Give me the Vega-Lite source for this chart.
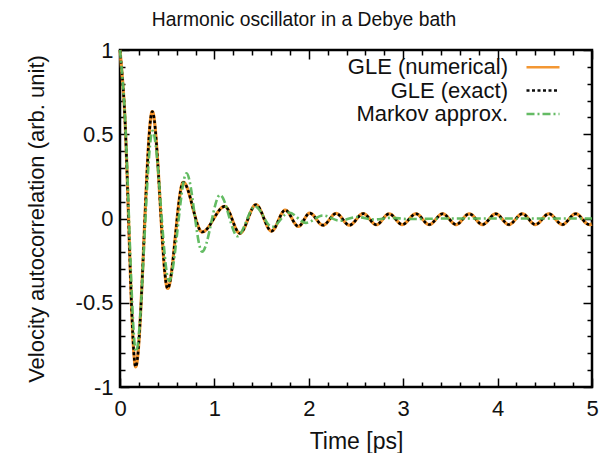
{
  "$schema": "https://vega.github.io/schema/vega-lite/v6.json",
  "width": 472,
  "height": 337,
  "autosize": {"type": "none"},
  "padding": {"left": 120, "top": 50, "right": 16, "bottom": 66},
  "background": "white",
  "title": {"text": "Harmonic oscillator in a Debye bath", "font": "Liberation Sans", "fontSize": 19.3, "fontWeight": "normal", "color": "#111", "dx": -52, "offset": 9},
  "config": {
    "view": {"stroke": "#000", "strokeWidth": 2.5},
    "axis": {"labelFont": "Liberation Sans", "labelFontSize": 22, "labelColor": "#111", "titleFont": "Liberation Sans", "titleFontSize": 22, "titleFontWeight": "normal", "titleColor": "#111", "tickColor": "#000", "tickWidth": 1.5, "domain": false, "grid": false},
    "legend": {"labelFont": "Liberation Sans", "labelFontSize": 22, "labelColor": "#111"}
  },
  "data": {"values": [
    {"t": 0, "v": 1, "s": "GLE (numerical)"},
    {"t": 0.04, "v": 0.72, "s": "GLE (numerical)"},
    {"t": 0.166, "v": -0.88, "s": "GLE (numerical)"},
    {"t": 0.342, "v": 0.635, "s": "GLE (numerical)"},
    {"t": 0.505, "v": -0.415, "s": "GLE (numerical)"},
    {"t": 0.67, "v": 0.215, "s": "GLE (numerical)"},
    {"t": 0.87, "v": -0.08, "s": "GLE (numerical)"},
    {"t": 1.11, "v": 0.072, "s": "GLE (numerical)"},
    {"t": 1.27, "v": -0.088, "s": "GLE (numerical)"},
    {"t": 1.44, "v": 0.082, "s": "GLE (numerical)"},
    {"t": 1.605, "v": -0.075, "s": "GLE (numerical)"},
    {"t": 1.75, "v": 0.05, "s": "GLE (numerical)"},
    {"t": 1.89, "v": -0.047, "s": "GLE (numerical)"},
    {"t": 2.01, "v": 0.032, "s": "GLE (numerical)"},
    {"t": 2.15, "v": -0.04, "s": "GLE (numerical)"},
    {"t": 2.29, "v": 0.03, "s": "GLE (numerical)"},
    {"t": 2.43, "v": -0.04, "s": "GLE (numerical)"},
    {"t": 2.577, "v": 0.029, "s": "GLE (numerical)"},
    {"t": 2.715, "v": -0.037, "s": "GLE (numerical)"},
    {"t": 2.852, "v": 0.028, "s": "GLE (numerical)"},
    {"t": 2.99, "v": -0.036, "s": "GLE (numerical)"},
    {"t": 3.135, "v": 0.028, "s": "GLE (numerical)"},
    {"t": 3.275, "v": -0.036, "s": "GLE (numerical)"},
    {"t": 3.418, "v": 0.028, "s": "GLE (numerical)"},
    {"t": 3.56, "v": -0.036, "s": "GLE (numerical)"},
    {"t": 3.7, "v": 0.028, "s": "GLE (numerical)"},
    {"t": 3.84, "v": -0.036, "s": "GLE (numerical)"},
    {"t": 3.98, "v": 0.028, "s": "GLE (numerical)"},
    {"t": 4.12, "v": -0.036, "s": "GLE (numerical)"},
    {"t": 4.262, "v": 0.028, "s": "GLE (numerical)"},
    {"t": 4.4, "v": -0.036, "s": "GLE (numerical)"},
    {"t": 4.544, "v": 0.028, "s": "GLE (numerical)"},
    {"t": 4.685, "v": -0.036, "s": "GLE (numerical)"},
    {"t": 4.827, "v": 0.028, "s": "GLE (numerical)"},
    {"t": 4.97, "v": -0.036, "s": "GLE (numerical)"},
    {"t": 5.0, "v": -0.033, "s": "GLE (numerical)"},
    {"t": 0, "v": 1, "s": "GLE (exact)"},
    {"t": 0.04, "v": 0.72, "s": "GLE (exact)"},
    {"t": 0.166, "v": -0.88, "s": "GLE (exact)"},
    {"t": 0.342, "v": 0.635, "s": "GLE (exact)"},
    {"t": 0.505, "v": -0.415, "s": "GLE (exact)"},
    {"t": 0.67, "v": 0.215, "s": "GLE (exact)"},
    {"t": 0.87, "v": -0.08, "s": "GLE (exact)"},
    {"t": 1.11, "v": 0.072, "s": "GLE (exact)"},
    {"t": 1.27, "v": -0.088, "s": "GLE (exact)"},
    {"t": 1.44, "v": 0.082, "s": "GLE (exact)"},
    {"t": 1.605, "v": -0.075, "s": "GLE (exact)"},
    {"t": 1.75, "v": 0.05, "s": "GLE (exact)"},
    {"t": 1.89, "v": -0.047, "s": "GLE (exact)"},
    {"t": 2.01, "v": 0.032, "s": "GLE (exact)"},
    {"t": 2.15, "v": -0.04, "s": "GLE (exact)"},
    {"t": 2.29, "v": 0.03, "s": "GLE (exact)"},
    {"t": 2.43, "v": -0.04, "s": "GLE (exact)"},
    {"t": 2.577, "v": 0.029, "s": "GLE (exact)"},
    {"t": 2.715, "v": -0.037, "s": "GLE (exact)"},
    {"t": 2.852, "v": 0.028, "s": "GLE (exact)"},
    {"t": 2.99, "v": -0.036, "s": "GLE (exact)"},
    {"t": 3.135, "v": 0.028, "s": "GLE (exact)"},
    {"t": 3.275, "v": -0.036, "s": "GLE (exact)"},
    {"t": 3.418, "v": 0.028, "s": "GLE (exact)"},
    {"t": 3.56, "v": -0.036, "s": "GLE (exact)"},
    {"t": 3.7, "v": 0.028, "s": "GLE (exact)"},
    {"t": 3.84, "v": -0.036, "s": "GLE (exact)"},
    {"t": 3.98, "v": 0.028, "s": "GLE (exact)"},
    {"t": 4.12, "v": -0.036, "s": "GLE (exact)"},
    {"t": 4.262, "v": 0.028, "s": "GLE (exact)"},
    {"t": 4.4, "v": -0.036, "s": "GLE (exact)"},
    {"t": 4.544, "v": 0.028, "s": "GLE (exact)"},
    {"t": 4.685, "v": -0.036, "s": "GLE (exact)"},
    {"t": 4.827, "v": 0.028, "s": "GLE (exact)"},
    {"t": 4.97, "v": -0.036, "s": "GLE (exact)"},
    {"t": 5.0, "v": -0.033, "s": "GLE (exact)"},
    {"t": 0, "v": 1, "s": "Markov approx."},
    {"t": 0.04, "v": 0.73, "s": "Markov approx."},
    {"t": 0.17, "v": -0.79, "s": "Markov approx."},
    {"t": 0.345, "v": 0.52, "s": "Markov approx."},
    {"t": 0.52, "v": -0.37, "s": "Markov approx."},
    {"t": 0.705, "v": 0.268, "s": "Markov approx."},
    {"t": 0.87, "v": -0.197, "s": "Markov approx."},
    {"t": 1.06, "v": 0.14, "s": "Markov approx."},
    {"t": 1.245, "v": -0.105, "s": "Markov approx."},
    {"t": 1.43, "v": 0.072, "s": "Markov approx."},
    {"t": 1.61, "v": -0.05, "s": "Markov approx."},
    {"t": 1.79, "v": 0.035, "s": "Markov approx."},
    {"t": 1.97, "v": -0.026, "s": "Markov approx."},
    {"t": 2.15, "v": 0.018, "s": "Markov approx."},
    {"t": 2.33, "v": -0.013, "s": "Markov approx."},
    {"t": 2.51, "v": 0.009, "s": "Markov approx."},
    {"t": 2.69, "v": -0.006, "s": "Markov approx."},
    {"t": 2.87, "v": 0.004, "s": "Markov approx."},
    {"t": 3.05, "v": -0.003, "s": "Markov approx."},
    {"t": 3.5, "v": 0, "s": "Markov approx."},
    {"t": 4.0, "v": 0, "s": "Markov approx."},
    {"t": 4.5, "v": 0, "s": "Markov approx."},
    {"t": 5.0, "v": 0, "s": "Markov approx."}
  ]},
  "encoding": {
    "x": {"field": "t", "type": "quantitative", "scale": {"domain": [0, 5], "nice": false, "zero": false}},
    "y": {"field": "v", "type": "quantitative", "scale": {"domain": [-1, 1], "nice": false}},
    "color": {"field": "s", "type": "nominal", "sort": null,
      "scale": {"domain": ["GLE (numerical)", "GLE (exact)", "Markov approx."], "range": ["#f39229", "#000000", "#5cb85c"]},
      "legend": {"title": null, "orient": "none", "legendX": 412, "legendY": 6.3, "padding": 0, "rowPadding": 1.3, "symbolType": "M-3,0H3", "symbolSize": 121, "symbolStrokeWidth": 2.5, "symbolFillColor": "transparent", "labelAlign": "right", "labelOffset": -46, "labelLimit": 300}},
    "strokeDash": {"field": "s", "type": "nominal", "sort": null,
      "scale": {"domain": ["GLE (numerical)", "GLE (exact)", "Markov approx."], "range": [[1, 0], [3, 2.5], [8, 3, 2, 3]]},
      "legend": {"title": null, "orient": "none", "legendX": 412, "legendY": 6.3, "padding": 0, "rowPadding": 1.3, "symbolType": "M-3,0H3", "symbolSize": 121, "symbolStrokeWidth": 2.5, "symbolFillColor": "transparent", "labelAlign": "right", "labelOffset": -46, "labelLimit": 300}}
  },
  "layer": [
    {
      "transform": [{"filter": "datum.s === 'GLE (numerical)'"}],
      "mark": {"type": "line", "interpolate": "monotone", "strokeWidth": 3.2},
      "encoding": {
        "x": {"field": "t", "type": "quantitative", "title": "Time [ps]",
          "axis": {"orient": "bottom", "values": [0, 0.2, 0.4, 0.6, 0.8, 1, 1.2, 1.4, 1.6, 1.8, 2, 2.2, 2.4, 2.6, 2.8, 3, 3.2, 3.4, 3.6, 3.8, 4, 4.2, 4.4, 4.6, 4.8, 5],
            "labelExpr": "abs(datum.value - round(datum.value)) < 0.001 ? '' + datum.value : ''",
            "tickSize": {"condition": {"test": "abs(datum.value - round(datum.value)) < 0.001", "value": -9}, "value": -5},
            "labelPadding": 20, "titlePadding": 7, "titleFontSize": 23, "labelFlush": false, "labelOverlap": false}},
        "y": {"field": "v", "type": "quantitative", "title": "Velocity autocorrelation (arb. unit)",
          "axis": {"orient": "left", "values": [-1, -0.9, -0.8, -0.7, -0.6, -0.5, -0.4, -0.3, -0.2, -0.1, 0, 0.1, 0.2, 0.3, 0.4, 0.5, 0.6, 0.7, 0.8, 0.9, 1],
            "labelExpr": "abs(datum.value * 2 - round(datum.value * 2)) < 0.001 ? '' + datum.value : ''",
            "tickSize": {"condition": {"test": "abs(datum.value * 2 - round(datum.value * 2)) < 0.001", "value": -9}, "value": -5},
            "labelPadding": 16, "titlePadding": 27, "labelFlush": false, "labelOverlap": false}}
      }
    },
    {
      "transform": [{"filter": "datum.s === 'GLE (exact)'"}],
      "mark": {"type": "line", "interpolate": "monotone", "strokeWidth": 2.6},
      "encoding": {
        "x": {"field": "t", "type": "quantitative",
          "axis": {"orient": "top", "title": null, "labels": false, "values": [0, 0.2, 0.4, 0.6, 0.8, 1, 1.2, 1.4, 1.6, 1.8, 2, 2.2, 2.4, 2.6, 2.8, 3, 3.2, 3.4, 3.6, 3.8, 4, 4.2, 4.4, 4.6, 4.8, 5],
            "tickSize": {"condition": {"test": "abs(datum.value - round(datum.value)) < 0.001", "value": -9}, "value": -5}}},
        "y": {"field": "v", "type": "quantitative",
          "axis": {"orient": "right", "title": null, "labels": false, "values": [-1, -0.9, -0.8, -0.7, -0.6, -0.5, -0.4, -0.3, -0.2, -0.1, 0, 0.1, 0.2, 0.3, 0.4, 0.5, 0.6, 0.7, 0.8, 0.9, 1],
            "tickSize": {"condition": {"test": "abs(datum.value * 2 - round(datum.value * 2)) < 0.001", "value": -9}, "value": -5}}}
      }
    },
    {
      "transform": [{"filter": "datum.s === 'Markov approx.'"}],
      "mark": {"type": "line", "interpolate": "monotone", "strokeWidth": 2.6, "opacity": 0.95},
      "encoding": {
        "x": {"field": "t", "type": "quantitative", "axis": null},
        "y": {"field": "v", "type": "quantitative", "axis": null}
      }
    }
  ],
  "resolve": {"axis": {"x": "independent", "y": "independent"}}
}
